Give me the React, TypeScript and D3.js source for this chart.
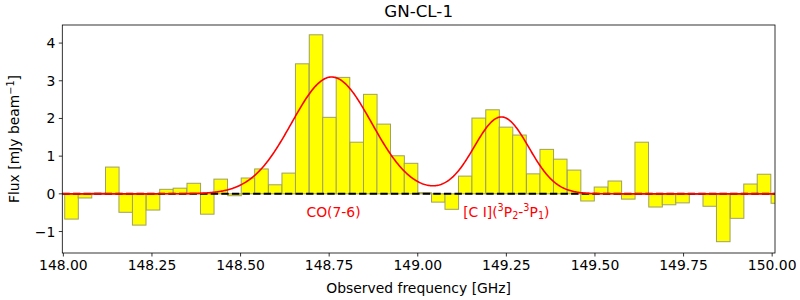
import React from "react";
import * as d3 from "d3";

// Channel centre frequencies [GHz]
const freqs = [
  148.023, 148.061, 148.099, 148.138, 148.176, 148.214, 148.253, 148.291, 148.329, 148.368,
  148.406, 148.444, 148.483, 148.521, 148.559, 148.598, 148.636, 148.674, 148.713, 148.751,
  148.789, 148.828, 148.866, 148.904, 148.943, 148.981, 149.019, 149.058, 149.096, 149.134,
  149.172, 149.211, 149.249, 149.287, 149.326, 149.364, 149.402, 149.441, 149.479, 149.517,
  149.556, 149.594, 149.632, 149.671, 149.709, 149.747, 149.786, 149.824, 149.862, 149.901,
  149.939, 149.977, 150.016,
];
// Flux per channel [mJy/beam]
const flux = [
  -0.67, -0.11, 0.02, 0.71, -0.49, -0.83, -0.43, 0.12, 0.15, 0.28,
  -0.54, 0.39, -0.05, 0.42, 0.66, 0.24, 0.55, 3.45, 4.22, 2.03,
  3.09, 1.37, 2.64, 1.85, 1.01, 0.81, 0.03, -0.22, -0.41, 0.47,
  2.01, 2.23, 1.77, 1.56, 0.53, 1.18, 0.92, 0.63, -0.19, 0.18,
  0.34, -0.14, 1.37, -0.35, -0.29, -0.24, -0.01, -0.33, -1.27, -0.65,
  0.26, 0.52, -0.25,
];
const channelWidth = 0.03833;

// Gaussian fit parameters (CO(7-6), [C I])
const lineCenters = [148.757, 149.236];
const lineAmps = [3.1, 2.04];
const lineSigmas = [0.113, 0.077];

const xTicks = [148.0, 148.25, 148.5, 148.75, 149.0, 149.25, 149.5, 149.75, 150.0];
const yTicks = [-1, 0, 1, 2, 3, 4];

const W = 800;
const H = 300;
const left = 62.3;
const right = 775;
const top = 25;
const bottom = 253;
const font = "DejaVu Sans, sans-serif";

export default function App() {
  const x = d3.scaleLinear().domain([147.997, 150.008]).range([left, right]);
  const y = d3.scaleLinear().domain([-1.57, 4.48]).range([bottom, top]);

  const model = (f: number) =>
    lineCenters.reduce(
      (s, c, i) => s + lineAmps[i] * Math.exp(-((f - c) ** 2) / (2 * lineSigmas[i] ** 2)),
      0
    );
  const [d0, d1] = x.domain();
  const grid = d3.range(0, 801).map((k) => d0 + ((d1 - d0) * k) / 800);
  const linePath = d3
    .line<number>()
    .x((f) => x(f))
    .y((f) => y(model(f)))(grid) as string;

  const fmt = (v: number) => (v < 0 ? "\u2212" + Math.abs(v) : String(v));

  return (
    <svg width={W} height={H} style={{ display: "block", position: "absolute", left: 0, top: 0 }} fontFamily={font}>
      <rect width={W} height={H} fill="#ffffff" />
      <defs>
        <clipPath id="plot">
          <rect x={left} y={top} width={right - left} height={bottom - top} />
        </clipPath>
      </defs>
      <g clipPath="url(#plot)">
        {freqs.map((f, i) => {
          const x0 = x(f - channelWidth / 2);
          const x1 = x(f + channelWidth / 2);
          const v = flux[i];
          const yTop = y(Math.max(0, v));
          const yBot = y(Math.min(0, v));
          return (
            <rect
              key={i}
              x={x0}
              y={yTop}
              width={x1 - x0}
              height={Math.max(0.5, yBot - yTop)}
              fill="#ffff00"
              stroke="#a0a060"
              strokeWidth={1}
            />
          );
        })}
        <line
          x1={left}
          x2={right}
          y1={y(0)}
          y2={y(0)}
          stroke="#000"
          strokeWidth={2}
          strokeDasharray="7.4,3.2"
        />
        <path d={linePath} fill="none" stroke="#ff0000" strokeWidth={1.6} />
      </g>
      {/* annotations */}
      <text x={x(148.686)} y={y(-0.5)} fontSize={13.9} fill="#ff0000" dominantBaseline="middle">
        CO(7-6)
      </text>
      <text x={x(149.128)} y={y(-0.5)} fontSize={13.9} fill="#ff0000" dominantBaseline="middle">
        [C I](
        <tspan fontSize={9.7} dy={-5}>3</tspan>
        <tspan dy={5}>P</tspan>
        <tspan fontSize={9.7} dy={3}>2</tspan>
        <tspan dy={-3}>-</tspan>
        <tspan fontSize={9.7} dy={-5}>3</tspan>
        <tspan dy={5}>P</tspan>
        <tspan fontSize={9.7} dy={3}>1</tspan>
        <tspan dy={-3}>)</tspan>
      </text>
      {/* frame */}
      <rect x={left} y={top} width={right - left} height={bottom - top} fill="none" stroke="#000" strokeWidth={0.8} />
      {/* x ticks */}
      {xTicks.map((t) => (
        <g key={t}>
          <line x1={x(t)} x2={x(t)} y1={bottom} y2={bottom + 3.5} stroke="#000" strokeWidth={0.8} />
          <text x={x(t)} y={bottom + 7} fontSize={13.9} textAnchor="middle" dominantBaseline="hanging" fill="#000">
            {t.toFixed(2)}
          </text>
        </g>
      ))}
      {/* y ticks */}
      {yTicks.map((t) => (
        <g key={t}>
          <line x1={left - 3.5} x2={left} y1={y(t)} y2={y(t)} stroke="#000" strokeWidth={0.8} />
          <text x={left - 7} y={y(t)} fontSize={13.9} textAnchor="end" dominantBaseline="central" fill="#000">
            {fmt(t)}
          </text>
        </g>
      ))}
      {/* axis labels */}
      <text x={(left + right) / 2} y={293} fontSize={13.9} textAnchor="middle" fill="#000">
        Observed frequency [GHz]
      </text>
      <text
        transform={`translate(19,${(top + bottom) / 2}) rotate(-90)`}
        fontSize={13.9}
        textAnchor="middle"
        fill="#000"
      >
        Flux [mJy beam
        <tspan fontSize={9.7} dy={-5}>{"\u22121"}</tspan>
        <tspan dy={5}>]</tspan>
      </text>
      {/* title */}
      <text x={(left + right) / 2} y={17} fontSize={16.7} textAnchor="middle" fill="#000">
        GN-CL-1
      </text>
    </svg>
  );
}
